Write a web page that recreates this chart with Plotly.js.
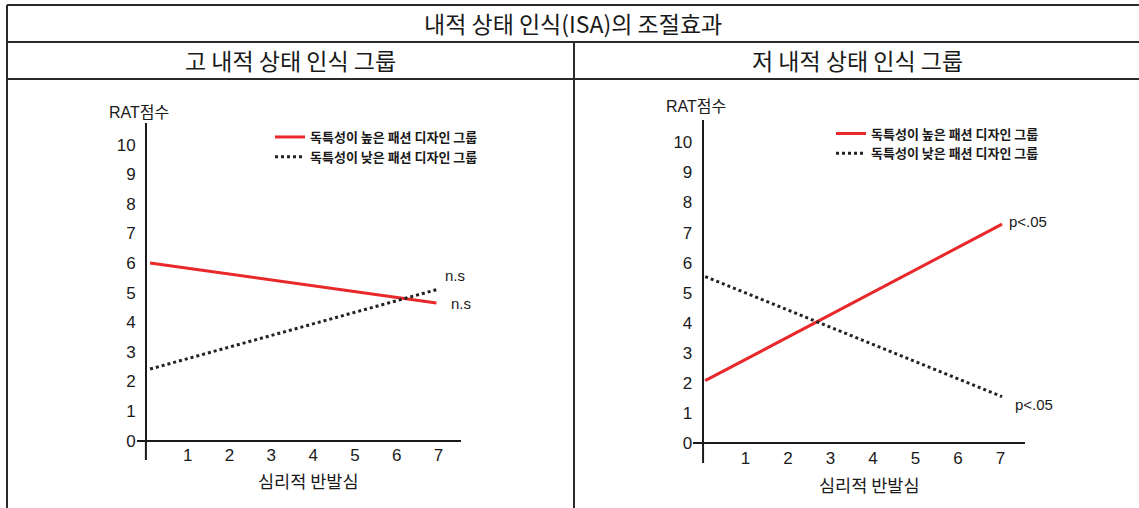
<!DOCTYPE html>
<html>
<head>
<meta charset="utf-8">
<script src="https://cdn.plot.ly/plotly-3.0.1.min.js"></script>
<style>
  html, body { margin: 0; padding: 0; background: #fff; }
  #chart { width: 1139px; height: 508px; }
</style>
</head>
<body>
<div id="chart"></div>
<script>
// Moderating effect of internal state awareness (ISA) on RAT scores
const seriesNames = ['독특성이 높은 패션 디자인 그룹', '독특성이 낮은 패션 디자인 그룹'];

// High-ISA group (left panel)
const highIsaX = [0.1, 6.95];
const highIsaUnique = [6.0, 4.65];
const highIsaCommon = [2.42, 5.1];
const highIsaSig = ['n.s', 'n.s'];

// Low-ISA group (right panel)
const lowIsaX = [0.05, 7.04];
const lowIsaUnique = [2.08, 7.28];
const lowIsaCommon = [5.54, 1.55];
const lowIsaSig = ['p&lt;.05', 'p&lt;.05'];

const xTicks = [1, 2, 3, 4, 5, 6, 7];
const yTicks = [0, 1, 2, 3, 4, 5, 6, 7, 8, 9, 10];

const mainTitle = '내적 상태 인식(ISA)의 조절효과';
const panelTitles = ['고 내적 상태 인식 그룹', '저 내적 상태 인식 그룹'];
const xTitle = '심리적 반발심';
const yTitle = 'RAT점수';

const W = 1139, H = 508;
const px = v => v / W;
const py = v => 1 - v / H;

const KR = "'Noto Sans CJK KR', sans-serif";
const NUM = "'Liberation Sans', 'Noto Sans CJK KR', sans-serif";
const RED = '#e8282b';
const INK = '#1a1a1a';

function lineTrace(x, y, name, xa, ya, legend, dotted) {
  return {
    type: 'scatter', mode: 'lines', x: x, y: y, name: name,
    xaxis: xa, yaxis: ya, legend: legend,
    line: dotted ? {color: '#222', width: 3, dash: 'dot'} : {color: RED, width: 3},
    hoverinfo: 'skip'
  };
}

const data = [
  lineTrace(highIsaX, highIsaUnique, seriesNames[0], 'x', 'y', 'legend', false),
  lineTrace(highIsaX, highIsaCommon, seriesNames[1], 'x', 'y', 'legend', true),
  lineTrace(lowIsaX, lowIsaUnique, seriesNames[0], 'x2', 'y2', 'legend2', false),
  lineTrace(lowIsaX, lowIsaCommon, seriesNames[1], 'x2', 'y2', 'legend2', true)
];

function xAxis(domain, range, anchor) {
  return {
    domain: domain, range: range, anchor: anchor,
    tickvals: xTicks, ticks: '', showgrid: false, showline: false,
    zeroline: true, zerolinecolor: INK, zerolinewidth: 2,
    tickfont: {family: NUM, size: 17, color: INK},
    fixedrange: true
  };
}
function yAxis(domain, range, anchor) {
  return {
    domain: domain, range: range, anchor: anchor,
    tickvals: yTicks, ticks: '', showgrid: false, showline: false,
    zeroline: true, zerolinecolor: INK, zerolinewidth: 2,
    tickfont: {family: NUM, size: 17, color: INK},
    fixedrange: true
  };
}

function legendBox(xPx, yPx) {
  return {
    x: px(xPx), y: py(yPx), xanchor: 'left', yanchor: 'top',
    bgcolor: 'rgba(0,0,0,0)', borderwidth: 0,
    font: {family: KR, size: 13, color: INK, weight: 'bold'},
    tracegroupgap: 0
  };
}

function sigNote(x, y, text, dx, dy, xa, ya) {
  return {
    xref: xa, yref: ya, x: x[x.length - 1], y: y[y.length - 1],
    text: text, showarrow: false, xanchor: 'left', yanchor: 'middle',
    xshift: dx, yshift: dy,
    font: {family: NUM, size: 15, color: INK}
  };
}

function paperText(xPx, yPx, text, size, family) {
  return {
    xref: 'paper', yref: 'paper', x: px(xPx), y: py(yPx),
    text: text, showarrow: false, xanchor: 'center', yanchor: 'middle',
    font: {family: family || KR, size: size, color: INK}
  };
}

const annotations = [
  paperText(573, 23, mainTitle, 23),
  paperText(290, 60, panelTitles[0], 23),
  paperText(857, 60, panelTitles[1], 23),
  paperText(139, 112, yTitle, 16, NUM),
  paperText(696, 107, yTitle, 16, NUM),
  paperText(308, 480, xTitle, 17.5),
  paperText(869, 484, xTitle, 17.5),
  sigNote(highIsaX, highIsaCommon, highIsaSig[0], 7, 14, 'x', 'y'),
  sigNote(highIsaX, highIsaUnique, highIsaSig[1], 13, 0, 'x', 'y'),
  sigNote(lowIsaX, lowIsaUnique, lowIsaSig[0], 5, 3, 'x2', 'y2'),
  sigNote(lowIsaX, lowIsaCommon, lowIsaSig[1], 11, -8, 'x2', 'y2')
];

function rule(x0, y0, x1, y1) {
  return {
    type: 'line', xref: 'paper', yref: 'paper',
    x0: px(x0), y0: py(y0), x1: px(x1), y1: py(y1),
    line: {color: '#2a2a2a', width: 2}
  };
}

// vertical axis continues a little below the horizontal axis
function axisTail(xa, ya, depth) {
  return {
    type: 'line', xref: xa, yref: ya + ' domain',
    x0: 0, x1: 0, y0: 0, y1: -depth,
    line: {color: INK, width: 2}
  };
}

// table frame around the two panels
const shapes = [
  rule(7, 5, W, 5),
  rule(7, 42, W, 42),
  rule(7, 79, W, 79),
  rule(7, 5, 7, H),
  rule(574, 42, 574, H),
  axisTail('x', 'y', 0.0548),
  axisTail('x2', 'y2', 0.0538)
];

const layout = {
  width: W, height: H,
  margin: {l: 0, r: 0, t: 0, b: 0, pad: 0},
  paper_bgcolor: '#fff', plot_bgcolor: '#fff',
  showlegend: true,
  xaxis: xAxis([px(136.7), px(460.7)], [-0.22, 7.53], 'y'),
  yaxis: yAxis([py(442.5), py(123)], [-0.061, 10.73], 'x'),
  xaxis2: xAxis([px(693.3), px(1025)], [-0.23, 7.58], 'y2'),
  yaxis2: yAxis([py(445.5), py(120)], [-0.073, 10.74], 'x2'),
  legend: legendBox(270, 122),
  legend2: legendBox(831, 118.5),
  annotations: annotations,
  shapes: shapes
};

Plotly.newPlot('chart', data, layout, {displayModeBar: false, staticPlot: true});
</script>
</body>
</html>
